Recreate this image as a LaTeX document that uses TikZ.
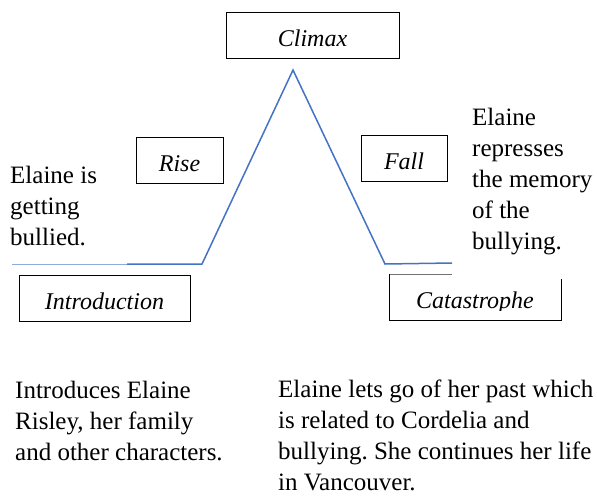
\documentclass[tikz,border=0pt]{standalone}
\usepackage{fontspec}
\setmainfont{Liberation Serif}
\frenchspacing
\definecolor{plotblue}{HTML}{4472C4}
\definecolor{lightblue}{HTML}{8FAADC}
\newcommand{\lowered}[1]{\raisebox{-11pt}[0pt][0pt]{#1}}
\begin{document}
\begin{tikzpicture}[x=1pt,y=-1pt,
  txt/.style={font=\fontsize{25}{31}\selectfont, inner sep=0pt, align=left, anchor=base west},
  label/.style={draw=black, line width=0.9pt, font=\fontsize{24}{28}\selectfont\itshape, inner sep=0pt},
  plot/.style={draw=plotblue, line width=1.5pt}]
\useasboundingbox (0,0) rectangle (597,496);
% boxes
\node[label, minimum width=173pt, minimum height=46pt] (climax) at (312.5,35) {\lowered{Climax}};
\node[label, minimum width=87pt, minimum height=46pt] (rise) at (179.5,160) {\lowered{Rise}};
\node[label, minimum width=86pt, minimum height=46pt] (fall) at (404,158) {\lowered{Fall}};
\node[label, minimum width=171pt, minimum height=46pt] (intro) at (104.5,298) {\lowered{Introduction}};
% catastrophe box (partly hidden)
\coordinate (ctl) at (389,274);
\coordinate (ctm) at (452,274);
\coordinate (cbl) at (389,320);
\coordinate (cbr) at (561,320);
\coordinate (crt) at (561,279);
\draw[black!55, line width=0.9pt] (ctl) -- (ctm);
\draw[black, line width=0.9pt] (ctl) -- (cbl) -- (cbr) -- (crt);
\begin{scope}
\clip (389,274) rectangle (561,310);
\node[font=\fontsize{24}{28}\selectfont\itshape, inner sep=0pt, anchor=base] (cat) at (475,308) {Catastrophe};
\end{scope}
% plot line
\coordinate (p0) at (12,264);
\coordinate (p1) at (127,264);
\coordinate (p2) at (202,264);
\coordinate (peak) at (293,70);
\coordinate (p3) at (385,264);
\coordinate (p4) at (452,263);
\draw[draw=lightblue, line width=1pt] (p0) -- (p1);
\draw[plot, line join=miter] (p1) -- (p2) -- (peak) -- (p3) -- (p4);
% texts (anchor at baseline of last line)
\node[txt] (t1) at (10,245) {Elaine is\\getting\\bullied.};
\node[txt] (t2) at (472,249) {Elaine\\represses\\the memory\\of the\\bullying.};
\node[txt] (t3) at (15,460) {Introduces Elaine\\Risley, her family\\and other characters.};
\node[txt] (t4) at (278,490) {Elaine lets go of her past which\\is related to Cordelia and\\bullying. She continues her life\\in Vancouver.};
\end{tikzpicture}
\end{document}
